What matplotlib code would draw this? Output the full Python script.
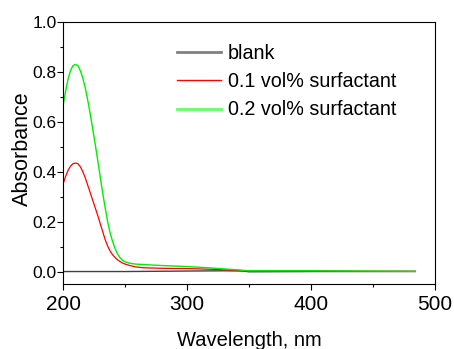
import matplotlib
matplotlib.use("Agg")
import matplotlib.pyplot as plt
from matplotlib.ticker import MultipleLocator, FormatStrFormatter

# Données
wl_pts = [200, 202, 204, 206, 208, 210, 212, 214, 216, 218, 220, 222, 224, 226, 228,
          230, 232, 234, 236, 238, 240, 242, 244, 246, 248, 250, 254, 258, 265, 280,
          300, 320, 340, 350, 360, 400, 440, 484]
abs_02 = [0.665, 0.72, 0.77, 0.805, 0.825, 0.83, 0.825, 0.805, 0.775, 0.735, 0.685, 0.63,
          0.57, 0.51, 0.445, 0.38, 0.315, 0.255, 0.2, 0.155, 0.12, 0.092, 0.07, 0.055,
          0.045, 0.039, 0.033, 0.03, 0.028, 0.024, 0.02, 0.014, 0.007, 0.003, 0.003,
          0.003, 0.002, 0.001]
abs_01 = [0.35, 0.38, 0.405, 0.422, 0.432, 0.435, 0.432, 0.42, 0.4, 0.375, 0.345, 0.315,
          0.285, 0.255, 0.225, 0.192, 0.16, 0.128, 0.102, 0.082, 0.067, 0.056, 0.047, 0.04,
          0.034, 0.03, 0.024, 0.019, 0.015, 0.013, 0.012, 0.009, 0.005, 0.002, 0.002,
          0.002, 0.001, 0.001]
wl_blank = [200, 250, 300, 330, 345, 350, 400, 484]
abs_blank = [0.0, 0.0, 0.002, 0.003, 0.002, -0.001, 0.0, 0.0]

labels = ["blank", "0.1 vol% surfactant", "0.2 vol% surfactant"]

plt.rcParams["font.family"] = ["Liberation Sans", "DejaVu Sans"]

fig = plt.figure(figsize=(4.54, 3.49), dpi=100)
ax = fig.add_axes([0.1388, 0.1862, 0.8194, 0.7507])

ax.plot(wl_blank, abs_blank, color="#404040", linewidth=1.0, label=labels[0])
ax.plot(wl_pts, abs_01, color="#ff0000", linewidth=0.9, label=labels[1])
ax.plot(wl_pts, abs_02, color="#00ee00", linewidth=1.0, label=labels[2])

ax.set_xlim(200, 500)
ax.set_ylim(-0.05, 1.0)
ax.xaxis.set_major_locator(MultipleLocator(100))
ax.xaxis.set_minor_locator(MultipleLocator(50))
ax.yaxis.set_major_locator(MultipleLocator(0.2))
ax.yaxis.set_minor_locator(MultipleLocator(0.1))
ax.yaxis.set_major_formatter(FormatStrFormatter("%.1f"))
ax.tick_params(which="major", direction="out", length=4, width=0.8)
ax.tick_params(which="minor", direction="out", length=2.5, width=0.8)
ax.tick_params(axis="x", labelsize=15, pad=4)
ax.tick_params(axis="y", labelsize=12.5, pad=0.6)
for s in ax.spines.values():
    s.set_linewidth(0.8)

ax.set_xlabel("Wavelength, nm", fontsize=14.5, labelpad=12)
ax.set_ylabel("Absorbance", fontsize=15.5)
ax.yaxis.set_label_coords(-0.082, 0.517)

leg = ax.legend(loc="upper left", bbox_to_anchor=(0.285, 0.948), frameon=False,
                fontsize=14.2, handlelength=2.23, handletextpad=0.36,
                labelspacing=0.48, borderaxespad=0)
lws = [2.0, 1.0, 2.0]
cols = ["#808080", "#ff0000", "#66ff66"]
for h, lw, c in zip(leg.get_lines(), lws, cols):
    h.set_linewidth(lw)
    h.set_color(c)

fig.savefig("out.png", dpi=100)
